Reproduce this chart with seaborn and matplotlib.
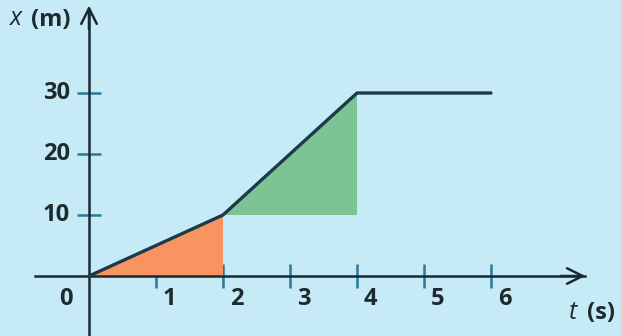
import matplotlib
matplotlib.use("Agg")
import matplotlib.pyplot as plt
import seaborn as sns
import pandas as pd

# Position-time data
t_points = [0, 2, 4, 6]
x_points = [0, 10, 30, 30]
t_ticks = [1, 2, 3, 4, 5, 6]
x_ticks = [10, 20, 30]

BG = "#c6eaf6"
LINE = "#1d3a4c"
TICK = "#2c7896"
ORANGE = "#f89460"
GREEN = "#7dc495"
INK = "#1e2a30"

sns.set_theme(style="white")
plt.rcParams["font.family"] = ["Open Sans", "DejaVu Sans"]

fig = plt.figure(figsize=(6.21, 3.36), dpi=100, facecolor=BG)
ax = fig.add_axes([0, 0, 1, 1], facecolor=BG)
ax.set_xlim(-89 / 67.0, (621 - 89) / 67.0)
ax.set_ylim(-60 / 6.1, 276 / 6.1)

df = pd.DataFrame({"t": t_points, "x": x_points})

# Shaded triangles: displacement during the first two segments
ax.fill([t_points[0], t_points[1], t_points[1]],
        [x_points[0], x_points[1], x_points[0]], color=ORANGE, lw=0, zorder=1)
ax.fill([t_points[1], t_points[2], t_points[2]],
        [x_points[1], x_points[2], x_points[1]], color=GREEN, lw=0, zorder=1)

sns.lineplot(data=df, x="t", y="x", ax=ax, color=LINE, lw=2.4, zorder=3)

# Axes through the origin
for side in ("top", "right"):
    ax.spines[side].set_visible(False)
for side in ("left", "bottom"):
    ax.spines[side].set_position(("data", 0))
    ax.spines[side].set_color("#1a2a33")
    ax.spines[side].set_linewidth(1.8)
    ax.spines[side].set_zorder(2)
ax.spines["bottom"].set_bounds(-0.8, 7.4)
ax.spines["left"].set_bounds(-9.9, 43.6)

arrow = dict(arrowstyle="->", lw=1.8, color="#1a2a33", mutation_scale=28)
ax.annotate("", xy=(7.45, 0), xytext=(7.0, 0), arrowprops=arrow)
ax.annotate("", xy=(0, 44.8), xytext=(0, 40), arrowprops=arrow)

ax.set_xticks(t_ticks)
ax.set_yticks(x_ticks)
ax.tick_params(axis="both", direction="inout", length=17, width=1.8,
               color=TICK, bottom=True, left=True,
               labelbottom=False, labelleft=False)
for tk, val in zip(ax.xaxis.get_major_ticks(), t_ticks):
    if val == 2:
        tk.tick1line.set_color("#1a2a33")
ax.set_xlabel("")
ax.set_ylabel("")

lbl = dict(fontsize=17, fontweight="bold", color=INK)
for val in t_ticks:
    ax.text(val + 0.2, -3.7, str(val), ha="center", va="center", **lbl)
ax.text(-0.34, -3.7, "0", ha="center", va="center", **lbl)
for val in x_ticks:
    ax.text(-0.29, val, str(val), ha="right", va="center", **lbl)

# Axis titles
ital = dict(fontsize=18, style="italic", fontweight="normal", color=INK,
            ha="center", va="center")
ax.text(-1.09, 42.2, "x", **ital)
ax.text(-0.57, 42.0, "(m)", ha="center", va="center", **lbl)
ax.text(7.22, -6.0, "t", **ital)
ax.text(7.64, -6.1, "(s)", ha="center", va="center", **lbl)

fig.savefig("out.png", dpi=100, facecolor=BG)
